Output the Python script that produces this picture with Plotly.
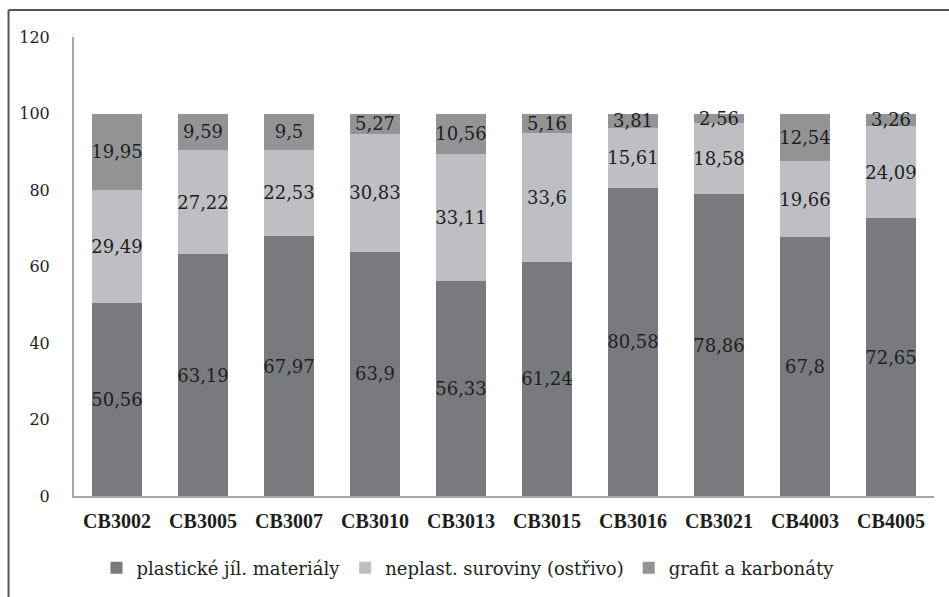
import plotly.graph_objects as go

categories = ["CB3002", "CB3005", "CB3007", "CB3010", "CB3013",
              "CB3015", "CB3016", "CB3021", "CB4003", "CB4005"]
plasticke = [50.56, 63.19, 67.97, 63.9, 56.33, 61.24, 80.58, 78.86, 67.8, 72.65]
neplast = [29.49, 27.22, 22.53, 30.83, 33.11, 33.6, 15.61, 18.58, 19.66, 24.09]
grafit = [19.95, 9.59, 9.5, 5.27, 10.56, 5.16, 3.81, 2.56, 12.54, 3.26]
series_names = ["plastické jíl. materiály", "neplast. suroviny (ostřivo)", "grafit a karbonáty"]
y_ticks = [0, 20, 40, 60, 80, 100, 120]

colors = ["#797a7e", "#bebfc2", "#949497"]

W, H = 949, 597
ML, MR, MT, MB = 73.5, 15, 37, 100
SERIF = "DejaVu Serif"
SERIF_BOLD = "Liberation Serif"
TXT = "#1e1e1e"

def fmt(v):
    return ("%g" % v).replace(".", ",")

fig = go.Figure()
for name, vals, col in zip(series_names, [plasticke, neplast, grafit], colors):
    fig.add_trace(go.Bar(
        x=categories, y=vals, name=name,
        marker=dict(color=col, line=dict(width=0)),
        text=[fmt(v) for v in vals],
        textposition="inside", insidetextanchor="middle",
        textangle=0, constraintext="none",
        textfont=dict(family=SERIF, size=18, color=TXT),
        hoverinfo="skip",
    ))

pw = W - ML - MR
ph = H - MT - MB
def px_x(p):
    return (p - ML) / pw
def px_y(p):
    return (H - MB - p) / ph

fig.update_layout(
    width=W, height=H,
    barmode="stack", bargap=0.43,
    margin=dict(l=ML, r=MR, t=MT, b=MB, pad=0),
    paper_bgcolor="white", plot_bgcolor="white",
    font=dict(family=SERIF, size=18, color=TXT),
    xaxis=dict(showgrid=False, showline=True, linecolor="#a6a6a6", linewidth=2,
               ticks="", tickfont=dict(family=SERIF_BOLD, size=20, color=TXT, weight="bold"),
               ticklabelstandoff=6),
    yaxis=dict(range=[0, 120], tickvals=y_ticks, showgrid=False, zeroline=False,
               showline=True, linecolor="#a6a6a6", linewidth=2, ticks="",
               tickfont=dict(family=SERIF, size=16, color=TXT),
               ticklabelstandoff=19),
    legend=dict(orientation="h", x=px_x(96), xanchor="left", y=px_y(568), yanchor="middle",
                font=dict(family=SERIF, size=18, color=TXT),
                traceorder="normal", bgcolor="rgba(0,0,0,0)"),
    showlegend=True,
    shapes=[
        dict(type="line", xref="paper", yref="paper", x0=px_x(8), x1=px_x(W + 5),
             y0=px_y(10), y1=px_y(10), line=dict(color="#555555", width=2)),
        dict(type="line", xref="paper", yref="paper", x0=px_x(8), x1=px_x(8),
             y0=px_y(10), y1=px_y(H + 5), line=dict(color="#555555", width=2)),
    ],
)

fig.write_html("out.html", config={"displayModeBar": False},
               post_script="document.body.style.margin='0';document.body.style.padding='0';")
